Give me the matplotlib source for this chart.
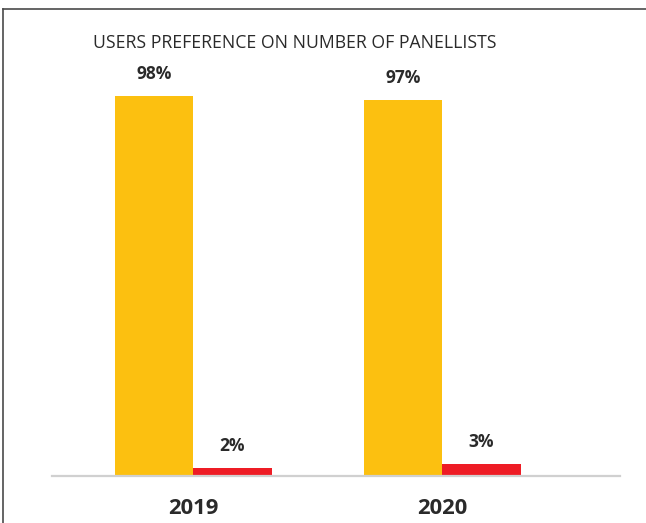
import matplotlib
matplotlib.use("Agg")
import matplotlib.pyplot as plt
from matplotlib.lines import Line2D

years = ["2019", "2020"]
prefer_a = [98, 97]
prefer_b = [2, 3]
title = "USERS PREFERENCE ON NUMBER OF PANELLISTS"

YELLOW = "#FCC010"
RED = "#EE1C25"
TEXT = "#2a2a2a"

plt.rcParams['font.family'] = ['Open Sans', 'DejaVu Sans']

W, H = 646, 523
fig = plt.figure(figsize=(W / 100, H / 100), dpi=100)
fig.patch.set_facecolor("white")

# axes placement in pixels
left_px, right_px = 52, 620
base_px = 476
top_px = base_px - 380 / 98 * 100
ax = fig.add_axes([left_px / W, (H - base_px) / H,
                   (right_px - left_px) / W, (base_px - top_px) / H])

spacing = 249.0
bw = 78.5 / spacing
x = list(range(len(years)))
xa = [i - bw / 2 for i in x]
xb = [i + bw / 2 for i in x]
bars_a = ax.bar(xa, prefer_a, width=bw, color=YELLOW, zorder=2)
bars_b = ax.bar(xb, prefer_b, width=bw, color=RED, zorder=2)

ax.set_xlim((left_px - 193) / spacing, (right_px - 193) / spacing)
ax.set_ylim(0, 100)

for bars, vals in ((bars_a, prefer_a), (bars_b, prefer_b)):
    for b, v in zip(bars, vals):
        ax.annotate(f"{v}%", (b.get_x() + b.get_width() / 2, v),
                    xytext=(0, 16), textcoords="offset points",
                    ha="center", va="center", fontsize=12.5,
                    fontweight="bold", color=TEXT)

for s in ("top", "right", "left"):
    ax.spines[s].set_visible(False)
ax.spines["bottom"].set_color("#d0d0d0")
ax.spines["bottom"].set_linewidth(1.6)
ax.set_yticks([])
ax.set_xticks(x)
ax.set_xticklabels(years, fontsize=15.8, fontweight="bold", color=TEXT)
ax.tick_params(axis="x", length=0, pad=16)
ax.patch.set_alpha(0)

fig.text(93 / W, 1 - 43 / H, title, ha="left", va="center",
         fontsize=12.7, color=TEXT, fontweight="normal")

# frame lines (top and left)
fig.add_artist(Line2D([2.5 / W, 1], [1 - 8.5 / H, 1 - 8.5 / H],
                      transform=fig.transFigure, color="#4a4a4a", lw=1.2))
fig.add_artist(Line2D([2.5 / W, 2.5 / W], [0, 1 - 8.5 / H],
                      transform=fig.transFigure, color="#4a4a4a", lw=1.2))

fig.savefig("out.png", dpi=100)
